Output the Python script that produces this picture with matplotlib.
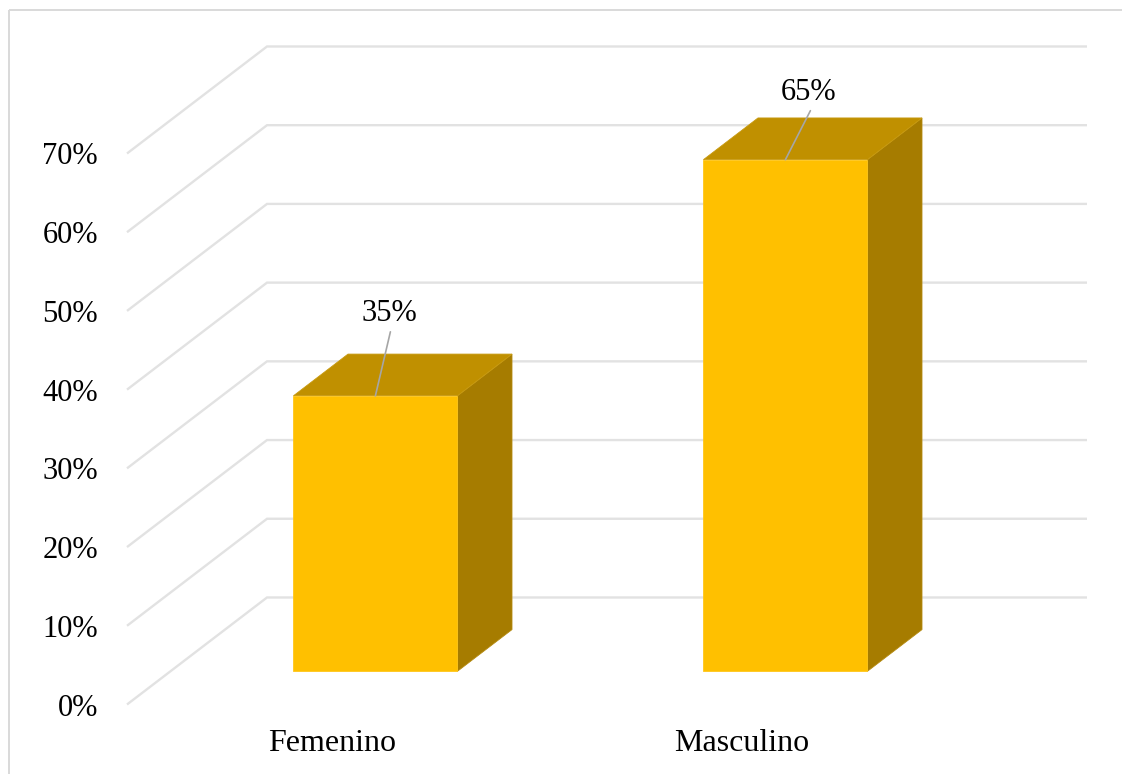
import matplotlib
matplotlib.use("Agg")
import matplotlib.pyplot as plt
from matplotlib.lines import Line2D

categories = ["Femenino", "Masculino"]
values = [35, 65]
value_labels = ["35%", "65%"]
grid_levels = [0, 10, 20, 30, 40, 50, 60, 70]
grid_labels = ["0%", "10%", "20%", "30%", "40%", "50%", "60%", "70%"]

W, H = 1122, 774
AX_L, AX_R, AX_T, AX_B = 127, 947, 153.5, 704.5
DEPTH_X = 140 / 410      # category units for a full wall depth
DEPTH_Y = 107 / 7.87     # percent units for a full wall depth
FRONT, BACK = 0.31, 0.70
BAR_W = 0.40

plt.rcParams["font.family"] = ["Liberation Serif", "DejaVu Serif"]
fig = plt.figure(figsize=(W / 100, H / 100), dpi=100, facecolor="white")
ax = fig.add_axes([AX_L / W, 1 - AX_B / H, (AX_R - AX_L) / W, (AX_B - AX_T) / H])
ax.set_xlim(-0.5, 1.5)
ax.set_ylim(0, 70)
ax.patch.set_visible(False)
for s in ax.spines.values():
    s.set_visible(False)


def proj(x, v, d):
    return x + DEPTH_X * d, v + DEPTH_Y * d


GRID = "#e2e2e2"
for lv in grid_levels:
    pts = [proj(-0.5, lv, 0), proj(-0.5, lv, 1), proj(1.5, lv, 1)]
    ax.plot(*zip(*pts), color=GRID, lw=1.7, clip_on=False, zorder=1,
            solid_joinstyle="miter", solid_capstyle="butt")

for i, v in enumerate(values):
    l, r = i - BAR_W / 2, i + BAR_W / 2
    front = [proj(l, 0, FRONT), proj(r, 0, FRONT), proj(r, v, FRONT), proj(l, v, FRONT)]
    side = [proj(r, 0, FRONT), proj(r, 0, BACK), proj(r, v, BACK), proj(r, v, FRONT)]
    top = [proj(l, v, FRONT), proj(r, v, FRONT), proj(r, v, BACK), proj(l, v, BACK)]
    ax.fill(*zip(*side), facecolor="#a67c00", edgecolor="#b58a10", lw=0.6, clip_on=False, zorder=3)
    ax.fill(*zip(*top), facecolor="#c09000", edgecolor="#c89a10", lw=0.6, clip_on=False, zorder=3)
    ax.fill(*zip(*front), facecolor="#ffc000", edgecolor="#ffc61a", lw=0.6, clip_on=False, zorder=4)

# leader lines and labels, offsets in pixels (1 px = 0.72 pt at dpi 100)
leader_off = [(15, 64), (25, 49)]
text_off = [(14, 82.5), (23.5, 67)]
for i, v in enumerate(values):
    anchor = proj(i, v, FRONT)
    ax.annotate("", xy=anchor, xycoords="data",
                xytext=(leader_off[i][0] * 0.72, leader_off[i][1] * 0.72),
                textcoords="offset points", zorder=5, annotation_clip=False,
                arrowprops=dict(arrowstyle="-", color="#a6a6a6", lw=1.2,
                                shrinkA=0, shrinkB=0))
    ax.annotate(value_labels[i], xy=anchor, xycoords="data",
                xytext=(text_off[i][0] * 0.72, text_off[i][1] * 0.72),
                textcoords="offset points", ha="center", va="center",
                fontsize=22, color="black", zorder=6, annotation_clip=False)

ax.set_yticks(grid_levels)
ax.set_yticklabels(grid_labels, fontsize=22, color="black")
ax.set_xticks(range(len(categories)))
ax.set_xticklabels(categories, fontsize=23, color="black")
ax.tick_params(axis="y", length=0, pad=21)
ax.tick_params(axis="x", length=0, pad=17.5)

# outer chart frame
FRAME = "#d9d9d9"
for xs, ys in [((9, 9), (10, H)), ((9, 1122), (10, 10))]:
    fig.add_artist(Line2D([x / W for x in xs], [1 - y / H for y in ys],
                          color=FRAME, lw=1.4, solid_capstyle="butt"))

fig.savefig("out.png", dpi=100, facecolor="white")
